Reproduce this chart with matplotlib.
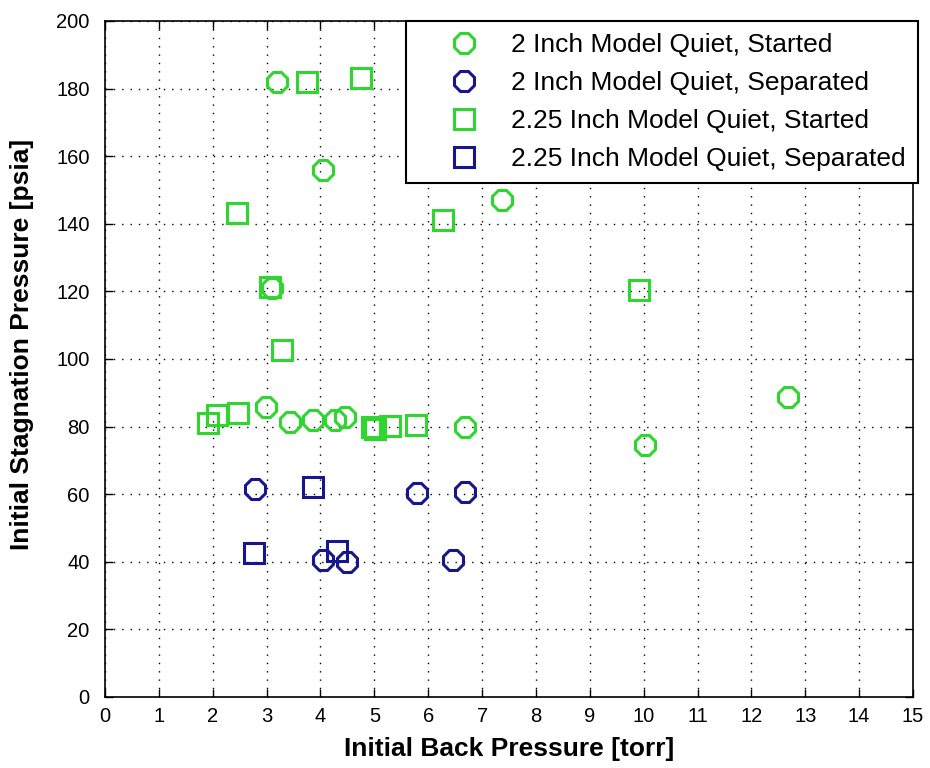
import matplotlib
matplotlib.use("Agg")
import matplotlib.pyplot as plt
from matplotlib.lines import Line2D

# 2 inch model, quiet tunnel, flow started
c_start_x = [3.19, 4.05, 7.37, 3.10, 2.99, 3.43, 3.86, 4.27, 4.46, 6.68, 10.02, 12.68]
c_start_y = [181.9, 155.9, 147.0, 121.0, 85.8, 81.4, 82.0, 82.0, 82.8, 79.9, 74.6, 88.8]

# 2 inch model, quiet tunnel, flow separated
c_sep_x = [2.78, 5.79, 6.68, 4.05, 4.49, 6.46]
c_sep_y = [61.5, 60.4, 60.7, 40.5, 40.0, 40.5]

# 2.25 inch model, quiet tunnel, flow started
s_start_x = [3.75, 4.75, 2.45, 6.27, 9.91, 3.06, 3.29, 1.91, 2.08, 2.47, 4.95, 5.02, 5.30, 5.77]
s_start_y = [182.0, 183.1, 143.2, 141.1, 120.4, 121.3, 102.7, 81.0, 83.4, 84.0, 80.0, 79.2, 80.2, 80.5]

# 2.25 inch model, quiet tunnel, flow separated
s_sep_x = [3.86, 2.77, 4.30]
s_sep_y = [62.2, 42.5, 43.3]

labels = ["2 Inch Model Quiet, Started",
          "2 Inch Model Quiet, Separated",
          "2.25 Inch Model Quiet, Started",
          "2.25 Inch Model Quiet, Separated"]

x_ticks = list(range(0, 16))
y_ticks = list(range(0, 201, 20))

GREEN = "#2fd62f"
BLUE = "#16168f"

plt.rcParams["font.family"] = ["Liberation Sans", "DejaVu Sans"]

fig = plt.figure(figsize=(9.30, 7.68), dpi=100)
ax = fig.add_axes([105 / 930, 71 / 768, 808 / 930, 676 / 768])

mk = dict(linestyle="none", markersize=16, markeredgewidth=2.2,
          markerfacecolor="none")
sq = {**mk, "markersize": 15}
ax.plot(c_start_x, c_start_y, marker="8", markeredgecolor=GREEN, **mk)
ax.plot(c_sep_x, c_sep_y, marker="8", markeredgecolor=BLUE, **mk)
ax.plot(s_start_x, s_start_y, marker="s", markeredgecolor=GREEN, **sq)
ax.plot(s_sep_x, s_sep_y, marker="s", markeredgecolor=BLUE, **sq)

ax.set_xlim(0, 15)
ax.set_ylim(0, 200)
ax.set_xticks(x_ticks)
ax.set_yticks(y_ticks)
ax.set_xticklabels([str(t) for t in x_ticks])
ax.set_yticklabels([str(t) for t in y_ticks])
ax.grid(True, color="black", linestyle=(0, (1, 5)), linewidth=1.0)
ax.tick_params(direction="in", length=6, width=1, top=True, right=True,
               labelsize=14.5, colors="black")
ax.tick_params(axis="y", pad=11)
ax.tick_params(axis="x", pad=7)
for sp in ax.spines.values():
    sp.set_linewidth(1.2)

lab_font = dict(fontweight="bold", fontsize=19)
ax.set_xlabel("Initial Back Pressure [torr]", labelpad=8, **lab_font)
ax.set_ylabel("Initial Stagnation Pressure [psia]", **lab_font)
ax.yaxis.set_label_coords(-0.088, 0.521)

handles = [
    Line2D([], [], marker="8", markeredgecolor=GREEN, **mk),
    Line2D([], [], marker="8", markeredgecolor=BLUE, **mk),
    Line2D([], [], marker="s", markeredgecolor=GREEN, **sq),
    Line2D([], [], marker="s", markeredgecolor=BLUE, **sq),
]

leg = ax.legend(handles, labels, loc="upper right", bbox_to_anchor=(1.006, 1.0),
                borderaxespad=0, fancybox=False, framealpha=1,
                edgecolor="black", handlelength=3.5, handletextpad=0.05,
                borderpad=0.45, labelspacing=0.53, prop=dict(size=19))
leg.get_frame().set_linewidth(1.5)
leg.set_zorder(5)

fig.savefig("out.png", dpi=100, facecolor="white")
